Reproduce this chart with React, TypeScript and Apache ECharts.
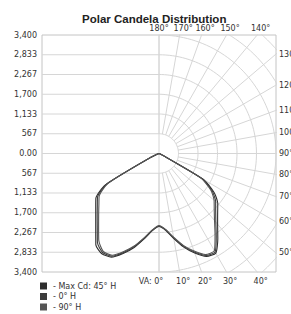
import React, { useEffect, useRef } from 'react';
import * as echarts from 'echarts';

const chartTitle = 'Polar Candela Distribution';
const seriesNames = ['Max Cd: 45° H', '0° H', '90° H'];
const seriesColors = ['#2e2e2e', '#3c3c3c', '#555555'];

// vertical angles (0 = nadir)
const verticalAngles = [0, 5, 10, 15, 20, 25, 30, 35, 40, 45, 50, 55, 60, 65, 70, 75, 80, 85, 90];

// candela, right half-plane
const maxCdRight = [2090, 2210, 2480, 2780, 3040, 3260, 3300, 2980, 2650, 2410, 2230, 1960, 1500, 120, 40, 10, 0, 0, 0];
const h0Right = [2080, 2200, 2460, 2750, 3010, 3230, 3260, 2900, 2570, 2330, 2150, 1890, 1450, 110, 35, 8, 0, 0, 0];
const h90Right = [2070, 2190, 2440, 2730, 2980, 3200, 3220, 2840, 2510, 2270, 2090, 1840, 1400, 100, 30, 6, 0, 0, 0];
// candela, left half-plane
const maxCdLeft = [2090, 2220, 2490, 2790, 3050, 3280, 3320, 3200, 2860, 2600, 2400, 2240, 1800, 300, 60, 10, 0, 0, 0];
const h0Left = [2080, 2210, 2470, 2760, 3020, 3250, 3280, 3120, 2790, 2540, 2340, 2180, 1750, 280, 55, 8, 0, 0, 0];
const h90Left = [2070, 2200, 2450, 2740, 2990, 3220, 3240, 3050, 2730, 2480, 2280, 2120, 1700, 260, 50, 6, 0, 0, 0];

const yTickValues = [-3400, -2833, -2267, -1700, -1133, -567, 0, 567, 1133, 1700, 2267, 2833, 3400];
const yTickLabels = ['3,400', '2,833', '2,267', '1,700', '1,133', '567', '0.00', '567', '1,133', '1,700', '2,267', '2,833', '3,400'];

const topAngles = [180, 170, 160, 150, 140];
const rightAngles = [130, 120, 110, 100, 90, 80, 70, 60, 50];
const bottomAngles = [0, 10, 20, 30, 40];

const gridRings = [567, 1133, 1700, 2267, 2833, 3400, 3967, 4533, 5100];
const gridSpokes = [0, 10, 20, 30, 40, 50, 60, 70, 80, 90, 100, 110, 120, 130, 140, 150, 160, 170, 180];

const RANGE = 3400;
const FONT = 'DejaVu Sans';
const GRID_COLOR = '#d6d6d6';

const rad = (d: number) => (d * Math.PI) / 180;
const toXY = (r: number, deg: number, side: number): [number, number] => [
  side * r * Math.sin(rad(deg)),
  -r * Math.cos(rad(deg)),
];

function curve(left: number[], right: number[]) {
  const pts: [number, number][] = [];
  for (let i = verticalAngles.length - 1; i >= 0; i--) pts.push(toXY(left[i], verticalAngles[i], -1));
  for (let i = 1; i < verticalAngles.length; i++) pts.push(toXY(right[i], verticalAngles[i], 1));
  return pts;
}

const nearestIndex = (v: number, values: number[]) => {
  let best = 0;
  for (let i = 1; i < values.length; i++) if (Math.abs(values[i] - v) < Math.abs(values[best] - v)) best = i;
  return best;
};

export default function App() {
  const ref = useRef<HTMLDivElement>(null);
  useEffect(() => {
    if (!ref.current) return;
    const chart = echarts.init(ref.current, undefined, { renderer: 'svg' });

    const topPos = topAngles.map((a) => RANGE * Math.tan(rad(180 - a)));
    const topLab = topAngles.map((a) => `${a}°`);
    const rightPos = rightAngles.map((a) => -RANGE / Math.tan(rad(a)));
    const rightLab = rightAngles.map((a) => `${a}°`);
    const botPos = bottomAngles.map((a) => RANGE * Math.tan(rad(a)));
    const botLab = bottomAngles.map((a, i) => (i === 0 ? `VA: ${a}°` : `${a}°`));

    const gridLine = (data: [number, number][]) => ({
      type: 'line',
      data,
      symbol: 'none',
      silent: true,
      clip: true,
      z: 1,
      lineStyle: { color: GRID_COLOR, width: 1 },
      emphasis: { disabled: true },
    });

    const gridSeries: any[] = [];
    yTickValues.forEach((v) => {
      if (Math.abs(v) < RANGE) gridSeries.push(gridLine([[-RANGE, v], [0, v]]));
    });
    gridSeries.push(gridLine([[0, -RANGE], [0, RANGE]]));
    gridSpokes.forEach((a) => {
      gridSeries.push(gridLine([toXY(gridRings[0], a, 1), toXY(6000, a, 1)]));
    });
    gridRings.forEach((r) => {
      const pts: [number, number][] = [];
      for (let a = 0; a <= 180; a += 2) pts.push(toXY(r, a, 1));
      gridSeries.push(gridLine(pts));
    });

    const curves = [
      curve(maxCdLeft, maxCdRight),
      curve(h0Left, h0Right),
      curve(h90Left, h90Right),
    ];

    const dataSeries = curves.map((d, i) => ({
      type: 'line',
      name: seriesNames[i],
      data: d,
      symbol: 'none',
      smooth: 0.2,
      z: 3,
      lineStyle: { color: seriesColors[i], width: 1.1 },
      itemStyle: { color: seriesColors[i] },
    }));

    const labelStyle = { color: '#333', fontSize: 8, fontFamily: FONT };
    const richStyle = {
      va: { color: '#333', fontSize: 8, fontFamily: FONT, padding: [0, 16, 0, 0] },
      sh: { color: '#333', fontSize: 8, fontFamily: FONT, padding: [0, 0, 0, 7] },
      c: { color: '#333', fontSize: 8, fontFamily: FONT },
    };

    chart.setOption({
      animation: false,
      backgroundColor: '#fff',
      title: {
        text: chartTitle,
        left: 82,
        top: 13,
        padding: 0,
        textStyle: { fontSize: 11.5, fontWeight: 'bold', color: '#222', fontFamily: 'Liberation Sans' },
      },
      legend: {
        data: seriesNames,
        orient: 'vertical',
        left: 40,
        top: 282,
        padding: 0,
        itemWidth: 7,
        itemHeight: 7,
        itemGap: 2.5,
        icon: 'rect',
        formatter: (n: string) => `- ${n}`,
        textStyle: { color: '#333', fontSize: 8, lineHeight: 7, fontFamily: FONT, padding: [0, 0, 0, 1] },
      },
      grid: {
        left: 42,
        right: 15,
        top: 35,
        bottom: 42,
        show: true,
        borderColor: '#c4c4c4',
        borderWidth: 1,
        outerBoundsMode: 'none',
        containLabel: false,
      },
      xAxis: [
        {
          type: 'value',
          position: 'bottom',
          min: -RANGE,
          max: RANGE,
          axisLine: { show: false },
          axisTick: { show: false },
          splitLine: { show: false },
          axisLabel: {
            ...labelStyle,
            customValues: botPos,
            margin: 5,
            rich: richStyle,
            formatter: (v: number) => {
              const i = nearestIndex(v, botPos);
              return i === 0 ? `{va|${botLab[i]}}` : `{sh|${botLab[i]}}`;
            },
          },
        },
        {
          type: 'value',
          position: 'top',
          min: -RANGE,
          max: RANGE,
          axisLine: { show: false },
          axisTick: { show: false },
          splitLine: { show: false },
          axisLabel: {
            ...labelStyle,
            customValues: topPos,
            margin: 3,
            rich: richStyle,
            formatter: (v: number) => {
              const i = nearestIndex(v, topPos);
              return i === 0 ? `{c|${topLab[i]}}` : `{sh|${topLab[i]}}`;
            },
          },
        },
      ],
      yAxis: [
        {
          type: 'value',
          position: 'left',
          min: -RANGE,
          max: RANGE,
          axisLine: { show: false },
          axisTick: { show: false },
          splitLine: { show: false },
          axisLabel: {
            ...labelStyle,
            customValues: yTickValues,
            margin: 5,
            formatter: (v: number) => yTickLabels[nearestIndex(v, yTickValues)],
          },
        },
        {
          type: 'value',
          position: 'right',
          min: -RANGE,
          max: RANGE,
          axisLine: { show: false },
          axisTick: { show: false },
          splitLine: { show: false },
          axisLabel: {
            ...labelStyle,
            customValues: rightPos,
            margin: 3,
            formatter: (v: number) => rightLab[nearestIndex(v, rightPos)],
          },
        },
      ],
      series: [...gridSeries, ...dataSeries],
    });
    return () => chart.dispose();
  }, []);

  return (
    <div
      ref={ref}
      style={{ position: 'fixed', left: 0, top: 0, width: 291, height: 314, background: '#fff' }}
    />
  );
}
